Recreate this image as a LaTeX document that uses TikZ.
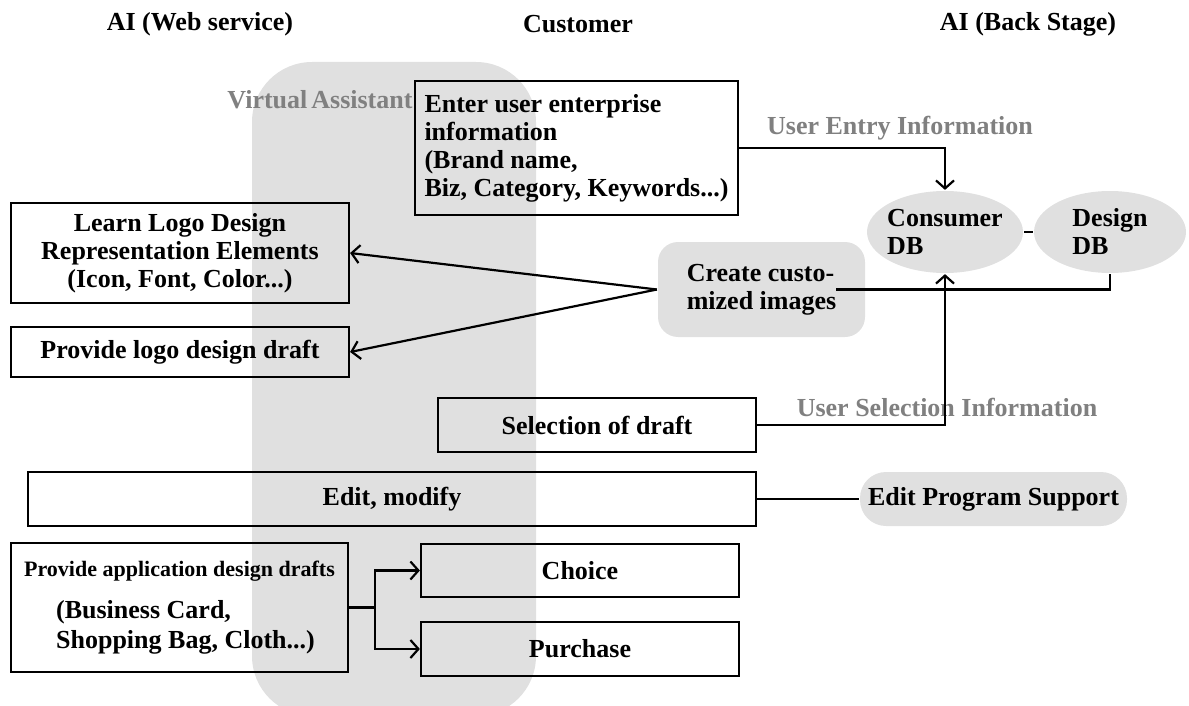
\documentclass[tikz,border=0pt]{standalone}
\usepackage{fontspec}
\setmainfont{Liberation Serif}
\usepackage{tikz}
\usetikzlibrary{
shapes.geometric,
arrows.meta,
}
\definecolor{vagray}{RGB}{224,224,224}
\definecolor{lblgray}{RGB}{128,128,128}
\tikzset{every picture/.style={line width=1.1pt}}
\tikzset{every node/.style = {font=\bfseries\fontsize{13}{14}\selectfont}}
\tikzset{box/.style = {shape=rectangle,draw,inner sep=2pt,align=center}}
\tikzset{pill/.style = {shape=rectangle,fill=vagray,inner sep=2pt}}
\tikzset{db/.style = {shape=ellipse,fill=vagray,inner xsep=-2pt,inner ysep=0pt,minimum height=41pt,align=left}}
\tikzset{tag/.style = {text=lblgray}}
\tikzset{edge/.style = {->, >={Straight Barb[length=4pt,width=9pt]}}}

\begin{document}
\begin{tikzpicture}[x=0.5pt,y=-0.5pt]
\useasboundingbox (0,0) rectangle (1189,706);
% assistant band
\begin{scope}
\clip (0,0) rectangle (1189,706);
\fill[vagray,rounded corners=30pt] (252,62) rectangle (536,716);
\end{scope}
%
\node (webhead) at (200,24) {AI (Web service)};
\node (custhead) at (578,24) {Customer};
\node (backhead) at (1028,24) {AI (Back Stage)};
\node[tag,inner xsep=0pt] (va) at (320,100) {Virtual\hspace{2pt}Assistant};
%
\node[box,align=left,minimum width=161.5pt,minimum height=67pt] (enter) at (576.5,148) {Enter user enterprise\\information\\(Brand name,\\Biz, Category, Keywords...)};
\node[box,minimum width=169pt,minimum height=50pt] (learn) at (180,253) {Learn Logo Design\\Representation Elements\\(Icon, Font, Color...)};
\node[box,minimum width=169pt,minimum height=25pt] (logodraft) at (180,352) {Provide logo design draft};
\node[pill,rounded corners=10pt,align=left,minimum width=103.5pt,minimum height=47.5pt] (create) at (761.5,289.5) {Create custo-\\mized images};
\node[db,minimum width=78pt] (consumer) at (945,232) {Consumer\\DB};
\node[db,minimum width=76pt] (design) at (1110,232) {Design\\DB};
\node[box,minimum width=159pt,minimum height=27pt] (selection) at (597,425) {Selection of draft};
\node[box,minimum width=364pt,minimum height=27pt] (edit) at (392,499) {Edit, modify};
\node[pill,rounded corners=13pt,minimum width=133.5pt,minimum height=27pt] (support) at (993.5,499) {Edit Program Support};
\node[box,align=left,minimum width=168.5pt,minimum height=64.5pt] (appdraft) at (179.5,607.5) {{\fontsize{11}{13}\selectfont Provide application design drafts}\\[7pt]\hspace*{16pt}(Business Card,\\[1pt]\hspace*{16pt}Shopping Bag, Cloth...)};
\node[box,minimum width=159pt,minimum height=26.5pt] (choice) at (580,570.5) {Choice};
\node[box,minimum width=159pt,minimum height=27pt] (purchase) at (580,649) {Purchase};
%
\node[tag] (entrylbl) at (900,128) {User Entry Information};
\node[tag] (selectlbl) at (947,407) {User Selection Information};
%
\draw[edge] (enter.east) -| (consumer.north);
\draw[edge] (create.west) -- (learn.east);
\draw[edge] (create.west) -- (logodraft.east);
\draw ([xshift=-15pt]create.east) -| (design.south);
\draw (consumer) -- (design);
\draw[edge] (selection.east) -| (consumer.south);
\draw (edit) -- (support);
\draw[edge] (appdraft.east) -- ++(13pt,0) coordinate (fork) |- (choice.west);
\draw[edge] (fork) |- (purchase.west);
\end{tikzpicture}
\end{document}
